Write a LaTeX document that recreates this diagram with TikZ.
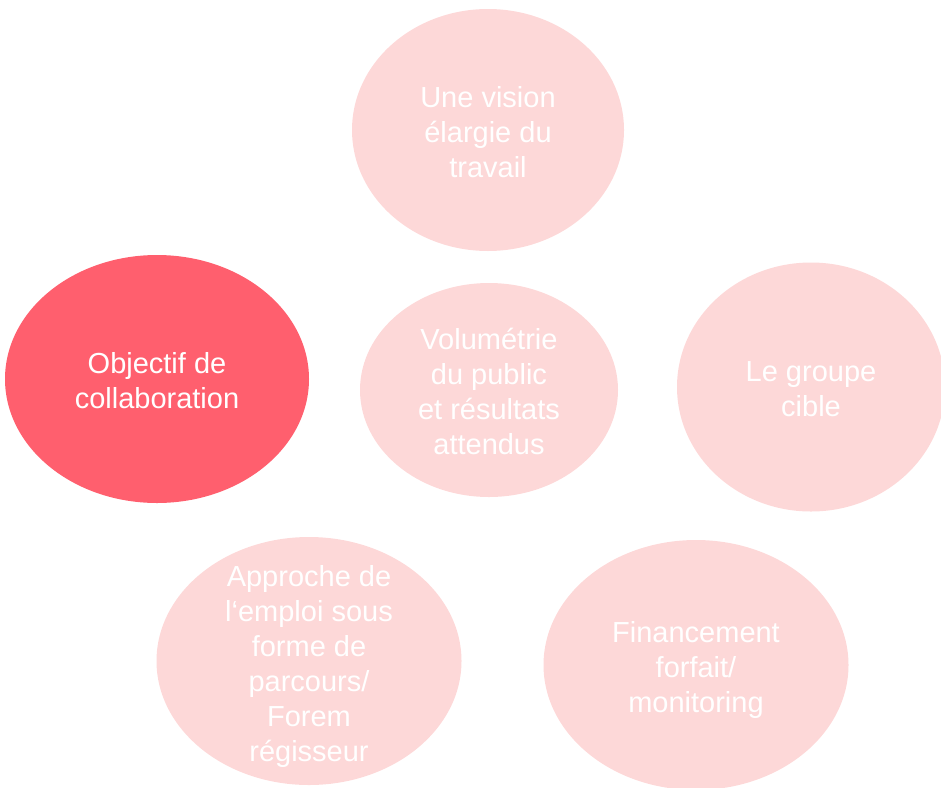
\documentclass[tikz,border=0pt]{standalone}
\usepackage{fontspec}
\setmainfont{Liberation Sans}
\usetikzlibrary{shapes.geometric}
\definecolor{rosepale}{RGB}{253,216,216}
\definecolor{rosevif}{RGB}{255,95,110}

\begin{document}
\begin{tikzpicture}[x=1pt,y=-1pt,
   bulle/.style={ellipse,fill=rosepale,inner sep=0pt},
   bullevive/.style={bulle,fill=rosevif},
   texte/.style={text=white,align=center,inner sep=0pt,font=\fontsize{29}{35}\selectfont}]
   \useasboundingbox (0,0) rectangle (941,787);

   \node[bulle,minimum width=272pt,minimum height=242pt] (vision) at (488,130) {};
   \node[bullevive,minimum width=304pt,minimum height=248pt] (objectif) at (157,379) {};
   \node[bulle,minimum width=258pt,minimum height=214pt] (volume) at (489,390) {};
   \node[bulle,minimum width=268pt,minimum height=249pt] (cible) at (811,387) {};
   \node[bulle,minimum width=305pt,minimum height=248pt] (approche) at (309,661) {};
   \node[bulle,minimum width=305pt,minimum height=250pt] (financement) at (696,665) {};

   \node[texte] (tvision) at ([yshift=-2pt]vision) {Une vision\\élargie du\\travail};
   \node[texte] (tobjectif) at ([yshift=-2pt]objectif) {Objectif de\\collaboration};
   \node[texte] (tvolume) at ([yshift=-1pt]volume) {Volumétrie\\du public\\et résultats\\attendus};
   \node[texte] (tcible) at ([yshift=-2pt]cible) {Le groupe\\cible};
   \node[texte] (tapproche) at ([yshift=-5pt]approche) {Approche de\\l‘emploi sous\\forme de\\parcours/\\Forem\\régisseur};
   \node[texte] (tfinancement) at ([yshift=-5pt]financement) {Financement\\forfait/\\monitoring};
\end{tikzpicture}
\end{document}
